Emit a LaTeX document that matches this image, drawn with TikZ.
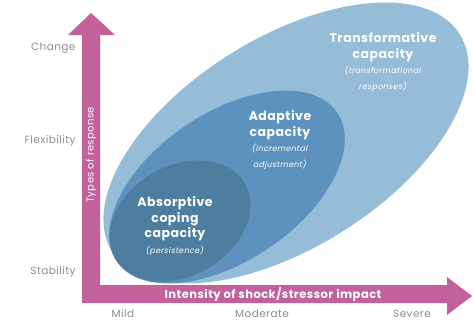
\documentclass[tikz,border=0pt]{standalone}
\usepackage{fontspec}
\setmainfont{Poppins}[LetterSpace=4]
\usetikzlibrary{positioning}

\definecolor{axispink}{HTML}{C2619A}
\definecolor{outerblue}{HTML}{96BDD7}
\definecolor{midblue}{HTML}{5C92BD}
\definecolor{innerblue}{HTML}{4E7E9F}
\definecolor{lvlgray}{HTML}{8C8C8C}

\tikzset{
  capname/.style={text=white, align=center, font=\fontsize{12.5}{15.5}\selectfont\bfseries},
  lvlname/.style={text=lvlgray, anchor=east, font=\fontsize{10.5}{12}\selectfont},
  sevname/.style={text=lvlgray, font=\fontsize{10.5}{12}\selectfont},
}

\newcommand{\capsub}[1]{{\fontsize{8}{11.5}\selectfont\mdseries\itshape #1}}

\begin{document}
\begin{tikzpicture}[x=1pt,y=1pt]
    \useasboundingbox (0,0) rectangle (474,325);

    % Step 1: the three capacities (nested ellipses)
    \fill[outerblue, rotate around={32:(286,182)}] (286,182) ellipse (205 and 105);
    \fill[midblue, rotate around={34:(227,138)}] (227,138) ellipse (133 and 74);
    \fill[innerblue, rotate around={30:(180,104)}] (180,104) ellipse (75 and 55);

    \node[capname] (transf) at (383,263) {Transformative\\capacity\\\capsub{(transformational}\\\capsub{responses)}};
    \node[capname] (adapt) at (280,185) {Adaptive\\capacity\\\capsub{(incremental}\\\capsub{adjustment)}};
    \node[capname] (absorb) at (175,99) {Absorptive\\coping\\capacity\\\capsub{(persistence)}};

    % Step 2: axes
    \fill[axispink] (82,22) -- (82,290) -- (68,290) -- (91,312) -- (115,290) -- (100,290) -- (100,40) -- cycle;
    \fill[axispink] (82,22) -- (447,22) -- (447,10) -- (472,29) -- (447,48) -- (447,40) -- (82,40) -- cycle;

    \node[text=white, rotate=90, font=\fontsize{10}{12}\selectfont] (yname) at (91,170) {Types of response};
    \node[text=white, font=\fontsize{11.5}{13}\selectfont\bfseries] (xname) at (273,30) {Intensity of shock/stressor impact};

    % Step 3: levels on each axis
    \foreach \lvl/\y in {Change/277, Flexibility/184, Stability/53} {
        \node[lvlname] (lvl-\lvl) at (79,\y) {\lvl};
    }
    \foreach \sev/\x in {Mild/123, Moderate/262, Severe/412} {
        \node[sevname] (sev-\sev) at (\x,11) {\sev};
    }

\end{tikzpicture}
\end{document}
